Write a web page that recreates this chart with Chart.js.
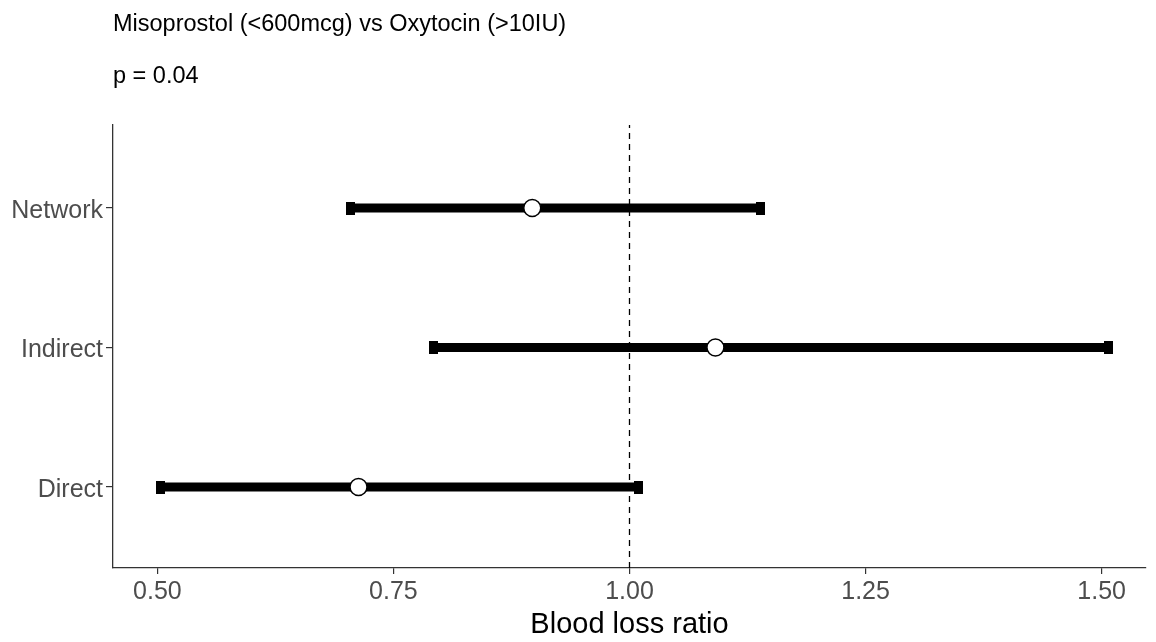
<!DOCTYPE html>
<html>
<head>
<meta charset="utf-8">
<script src="https://cdn.jsdelivr.net/npm/chart.js@4/dist/chart.umd.min.js"></script>
<style>
  html, body { margin: 0; padding: 0; background: #ffffff; }
  #wrap { position: relative; width: 1156px; height: 642px; overflow: hidden; }
  #c { position: absolute; left: 0; top: 0; }
  .ttl { position: absolute; left: 113px; font-family: "Liberation Sans", Arial, sans-serif; font-size: 23.5px; line-height: 28px; color: #000; white-space: nowrap; }
</style>
</head>
<body>
<div id="wrap">
  <canvas id="c" width="1156" height="642"></canvas>
  <div class="ttl" style="top:9px;">Misoprostol (&lt;600mcg) vs Oxytocin (&gt;10IU)</div>
  <div class="ttl" style="top:61px;">p = 0.04</div>
</div>
<script>
// ---- data ----
const categories = ['Direct', 'Indirect', 'Network'];
const estimates  = [0.713, 1.091, 0.897];
const lowerCI    = [0.503, 0.792, 0.704];
const upperCI    = [1.010, 1.507, 1.139];
const xTicks     = [0.50, 0.75, 1.00, 1.25, 1.50];
const refValue   = 1.00;
const xTitle     = 'Blood loss ratio';

// ---- helpers ----
const yOf = i => i + 1;
const FONT = '"Liberation Sans", Arial, sans-serif';

const capCanvas = document.createElement('canvas');
capCanvas.width = 9; capCanvas.height = 13;
(function(){ const g = capCanvas.getContext('2d'); g.fillStyle = '#000'; g.fillRect(0, 0, 9, 13); })();

const datasets = [];
// reference dashed line
datasets.push({
  data: [{x: refValue, y: 0.42}, {x: refValue, y: 3.595}],
  showLine: true, borderColor: '#000', borderWidth: 1.3, borderDash: [6, 5],
  pointRadius: 0, order: 4
});
// CI bars
categories.forEach((c, i) => {
  datasets.push({
    data: [{x: lowerCI[i], y: yOf(i)}, {x: upperCI[i], y: yOf(i)}],
    showLine: true, borderColor: '#000', borderWidth: 9, borderCapStyle: 'butt',
    pointRadius: 0, order: 3
  });
});
// caps
const capData = [];
categories.forEach((c, i) => { capData.push({x: lowerCI[i], y: yOf(i)}); capData.push({x: upperCI[i], y: yOf(i)}); });
datasets.push({ data: capData, pointStyle: capCanvas, pointRadius: 6, order: 2 });
// point estimates
datasets.push({
  data: categories.map((c, i) => ({x: estimates[i], y: yOf(i)})),
  pointStyle: 'circle', pointRadius: 8.5, pointBackgroundColor: '#fff',
  pointBorderColor: '#000', pointBorderWidth: 1.5, order: 1
});

new Chart(document.getElementById('c'), {
  type: 'scatter',
  data: { datasets },
  options: {
    responsive: false, animation: false, devicePixelRatio: 1,
    layout: { padding: { left: 0, right: 6, top: 125, bottom: 0 } },
    plugins: { legend: { display: false }, tooltip: { enabled: false }, title: { display: false } },
    scales: {
      x: {
        type: 'linear', min: 0.453, max: 1.547,
        afterBuildTicks: s => { s.ticks = xTicks.map(v => ({ value: v })); },
        afterFit: s => { s.height = 74; },
        ticks: { callback: v => Number(v).toFixed(2), font: { family: FONT, size: 25 }, color: '#4D4D4D', padding: 3, maxRotation: 0 },
        grid: { display: true, drawOnChartArea: false, drawTicks: true, tickLength: 6, color: '#333', lineWidth: 1.2 },
        border: { display: true, color: '#333', width: 1.3 },
        title: { display: true, text: xTitle, font: { family: FONT, size: 29 }, color: '#000', padding: { top: 0, bottom: 0 } }
      },
      y: {
        type: 'linear', min: 0.42, max: 3.595,
        afterBuildTicks: s => { s.ticks = categories.map((c, i) => ({ value: yOf(i) })); },
        afterFit: s => { s.width = 113; },
        ticks: { callback: v => categories[Math.round(v) - 1] || '', font: { family: FONT, size: 25 }, color: '#4D4D4D', padding: 3, labelOffset: 3 },
        grid: { display: true, drawOnChartArea: false, drawTicks: true, tickLength: 7, color: '#333', lineWidth: 1.2 },
        border: { display: true, color: '#333', width: 1.3 }
      }
    }
  }
});
</script>
</body>
</html>
